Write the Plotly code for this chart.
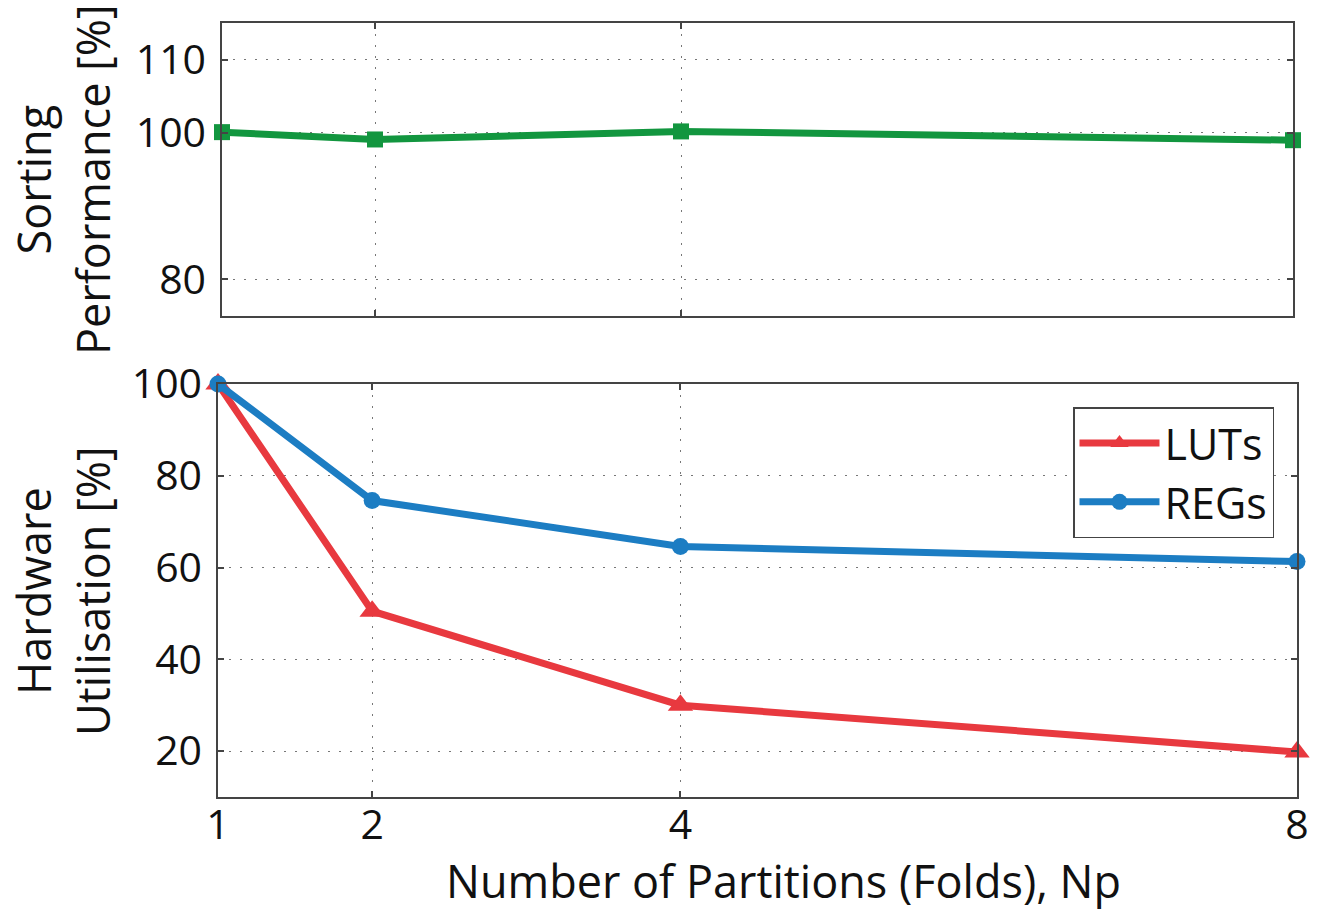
import plotly.graph_objects as go

partitions = [1, 2, 4, 8]
sorting_perf = [100.1, 99.1, 100.2, 99.0]
luts = [100, 50.5, 30.0, 19.8]
regs = [100, 74.6, 64.6, 61.3]

x_ticks = [1, 2, 4, 8]
top_yticks = [80, 100, 110]
bot_yticks = [20, 40, 60, 80, 100]

GREEN = "#12963f"
RED = "#e8393f"
BLUE = "#1c7dc3"
FONT = "Open Sans"

fig = go.Figure()

fig.add_trace(go.Scatter(
    x=partitions, y=sorting_perf, mode="lines+markers", showlegend=False,
    line=dict(color=GREEN, width=7), marker=dict(symbol="square", size=16, color=GREEN),
    xaxis="x", yaxis="y", cliponaxis=False))

fig.add_trace(go.Scatter(
    x=partitions, y=luts, mode="lines+markers", name="LUTs",
    line=dict(color=RED, width=7), marker=dict(symbol="triangle-up", size=22, color=RED),
    xaxis="x2", yaxis="y2", cliponaxis=False))

fig.add_trace(go.Scatter(
    x=partitions, y=regs, mode="lines+markers", name="REGs",
    line=dict(color=BLUE, width=7), marker=dict(symbol="circle", size=17, color=BLUE),
    xaxis="x2", yaxis="y2", cliponaxis=False))

W, H = 1326, 913
L, R, T, B = 218, 29, 23, 116
pw = W - L - R
ph = H - T - B

def px_x(p):
    return (p - L) / pw

def px_y(p):
    return (H - B - p) / ph

axis_common = dict(
    showline=True, linecolor="#444", linewidth=1.5, mirror="all",
    ticks="inside", ticklen=6, tickcolor="#444", tickwidth=1.5,
    showgrid=True, gridcolor="#777", gridwidth=1.3, griddash="2px,9px",
    zeroline=False, tickfont=dict(family=FONT, size=41, color="#111"),
)

title_font = dict(family=FONT, size=45, color="#111")

fig.update_layout(
    width=W, height=H,
    margin=dict(l=L, r=R, t=T, b=B, autoexpand=False),
    paper_bgcolor="white", plot_bgcolor="white",
    font=dict(family=FONT, color="#111"),
    xaxis=dict(domain=[px_x(222), px_x(1293)], range=[1, 8], tickvals=x_ticks,
               showticklabels=False, anchor="y", **axis_common),
    yaxis=dict(domain=[px_y(316), 1], range=[75, 115], tickvals=top_yticks, anchor="x",
               ticklabelstandoff=6, **axis_common),
    xaxis2=dict(domain=[0, 1], range=[1, 8], tickvals=x_ticks, anchor="y2",
                ticklabelstandoff=-9, **axis_common),
    yaxis2=dict(domain=[0, px_y(384)], range=[10, 100], tickvals=bot_yticks, anchor="x2",
                ticklabelstandoff=6, **axis_common),
    legend=dict(x=px_x(1073), y=px_y(407), xanchor="left", yanchor="top",
                bgcolor="white", bordercolor="#444", borderwidth=1.5,
                font=dict(family=FONT, size=43, color="#111"),
                itemwidth=80, tracegroupgap=0),
    annotations=[
        dict(text="Number of Partitions (Folds), Np", xref="paper", yref="paper",
             x=px_x(783), y=px_y(880), xanchor="center", yanchor="middle",
             showarrow=False, font=title_font),
        dict(text="Sorting<br>Performance [%]", xref="paper", yref="paper",
             x=px_x(63), y=px_y(180), xanchor="center", yanchor="middle", textangle=-90,
             showarrow=False, font=title_font),
        dict(text="Hardware<br>Utilisation [%]", xref="paper", yref="paper",
             x=px_x(63), y=px_y(591), xanchor="center", yanchor="middle", textangle=-90,
             showarrow=False, font=title_font),
    ],
)

fig.write_html("out.html", config={"displayModeBar": False},
               post_script="document.body.style.margin='0';document.body.style.overflow='hidden';")
